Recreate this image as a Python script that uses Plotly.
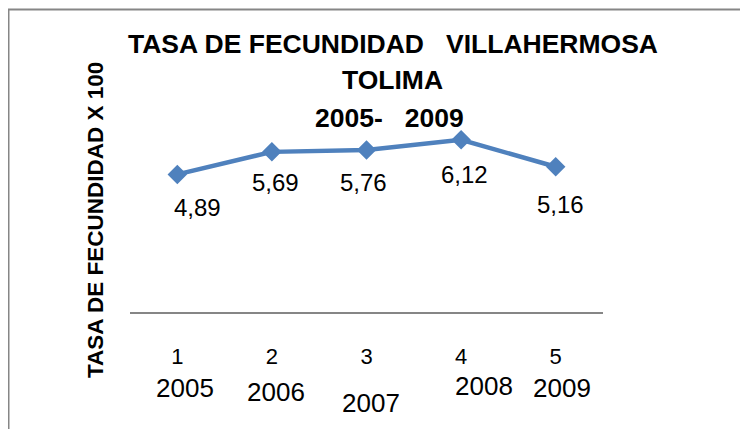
import plotly.graph_objects as go

# ---- data ----
categories = [1, 2, 3, 4, 5]
years = ["2005", "2006", "2007", "2008", "2009"]
tasa = [4.89, 5.69, 5.76, 6.12, 5.16]
value_labels = ["4,89", "5,69", "5,76", "6,12", "5,16"]
title_lines = ["TASA DE FECUNDIDAD   VILLAHERMOSA", "TOLIMA", "2005-   2009"]
y_title = "TASA DE FECUNDIDAD X 100"

# ---- layout geometry (pixels; page body adds an 8px offset) ----
O = 8
W, H = 748, 429
L, R, T, B = 130 - O, 145 + O, 115 - O, 117 + O
PW, PH = W - L - R, H - T - B


def px_x(px):
    # px given in screenshot coordinates
    return (px - O - L) / PW


def px_y(py):
    return (H - B - (py - O)) / PH


FONT = "Liberation Sans, Arial, sans-serif"
BLUE = "#4F81BD"
GRAY = "#868686"

fig = go.Figure()
fig.add_trace(go.Scatter(
    x=categories, y=tasa, mode="lines+markers",
    line=dict(color=BLUE, width=4.5),
    marker=dict(symbol="diamond", size=15, color=BLUE),
    hoverinfo="skip", showlegend=False,
))

annotations = []
# data labels (offsets as in original)
lbl_dx = [20, 4, -3, 3, 5]
lbl_dy = [-33, -31, -33, -35, -38]
for c, v, t, dx, dy in zip(categories, tasa, value_labels, lbl_dx, lbl_dy):
    annotations.append(dict(x=c, y=v, xref="x", yref="y", text=t, showarrow=False,
                            xshift=dx, yshift=dy, xanchor="center", yanchor="middle",
                            font=dict(family=FONT, size=24, color="#000")))
# year labels under category numbers
yr_dx = [8, 4, 4, 23, 6]
yr_dy = [-76, -80, -91, -74, -76]
for c, t, dx, dy in zip(categories, years, yr_dx, yr_dy):
    annotations.append(dict(x=c, y=0, xref="x", yref="y", text=t, showarrow=False,
                            xshift=dx, yshift=dy, xanchor="center", yanchor="middle",
                            font=dict(family=FONT, size=26, color="#000")))
# title lines
title_pos = [(393, 44), (392, 80), (389, 118)]
for t, (px, py) in zip(title_lines, title_pos):
    annotations.append(dict(x=px_x(px), y=px_y(py), xref="paper", yref="paper", text="<b>%s</b>" % t,
                            showarrow=False, xanchor="center", yanchor="middle",
                            font=dict(family=FONT, size=26.5, color="#000")))
# y axis title
annotations.append(dict(x=px_x(95), y=px_y(220), xref="paper", yref="paper", text="<b>%s</b>" % y_title,
                        showarrow=False, textangle=-90, xanchor="center", yanchor="middle",
                        font=dict(family=FONT, size=22.5, color="#000")))

shapes = [
    dict(type="line", xref="paper", yref="paper", x0=px_x(8), x1=px_x(8), y0=px_y(9), y1=px_y(H + 20),
         line=dict(color=GRAY, width=3)),
    dict(type="line", xref="paper", yref="paper", x0=px_x(7), x1=px_x(W + 20), y0=px_y(9.5), y1=px_y(9.5),
         line=dict(color=GRAY, width=2)),
]

fig.update_layout(
    width=W, height=H,
    margin=dict(l=L, r=R, t=T, b=B, autoexpand=False),
    paper_bgcolor="white", plot_bgcolor="white",
    showlegend=False,
    xaxis=dict(range=[0.5, 5.5], tickvals=categories, ticktext=[str(c) for c in categories],
               showline=True, linecolor=GRAY, linewidth=2, showgrid=False, zeroline=False,
               ticks="", ticklabelstandoff=24,
               tickfont=dict(family=FONT, size=22, color="#000"), fixedrange=True),
    yaxis=dict(range=[0, 7], visible=False, fixedrange=True),
    annotations=annotations,
    shapes=shapes,
)

fig.write_html("out.html")
